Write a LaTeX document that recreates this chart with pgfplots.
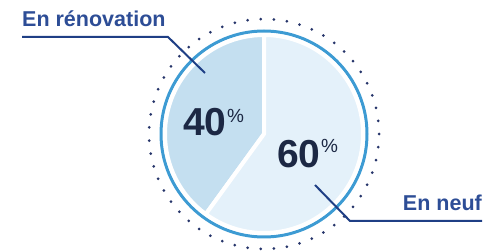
\documentclass[border=0pt]{standalone}
\usepackage{fontspec}
\setmainfont{Liberation Sans}
\usepackage{pgfplots}
\usepackage{pgfplotstable}
\pgfplotsset{compat=1.18}
\definecolor{sliceA}{HTML}{C4DFF0}
\definecolor{sliceB}{HTML}{E4F1FA}
\definecolor{ringc}{HTML}{3D9BD3}
\definecolor{dotc}{HTML}{26356A}
\definecolor{labelc}{HTML}{2D4D96}
\definecolor{linec}{HTML}{1F3F85}
\definecolor{numc}{HTML}{1C2844}
\pgfplotstableread{
label value
renovation 40
neuf 60
}\piedata
\pgfplotstablegetelem{0}{value}\of\piedata \let\va\pgfplotsretval
\pgfplotstablegetelem{1}{value}\of\piedata \let\vb\pgfplotsretval
\begin{document}
\begin{tikzpicture}
\begin{axis}[width=493bp, height=251bp, scale only axis,
  xmin=0, xmax=493, ymin=0, ymax=251, hide axis, clip=false]
\path (axis cs:0,0) rectangle (axis cs:493,251);
% dotted outer circle
\draw[dotc, line width=3bp, line cap=round, dash pattern=on 0pt off 13.138bp]
  (axis cs:264,117) circle[radius=115bp];
% ring
\draw[ringc, line width=3bp] (axis cs:264,117) circle[radius=103bp];
% slices
\fill[sliceA, draw=white, line width=4bp, line join=round]
  (axis cs:264,117) -- ++(90:99bp) arc[start angle=90, end angle={90+3.6*\va}, radius=99bp] -- cycle;
\fill[sliceB, draw=white, line width=4bp, line join=round]
  (axis cs:264,117) -- ++({90+3.6*\va}:99bp) arc[start angle={90+3.6*\va}, end angle={90+3.6*\va+3.6*\vb}, radius=99bp] -- cycle;
% connectors
\addplot[linec, line width=2bp, mark=none] coordinates {(22,214) (168,214) (205,178)};
\addplot[linec, line width=2bp, mark=none] coordinates {(315,66) (350,30) (482,30)};
% labels
\node[anchor=base west, inner sep=0pt, text=labelc, font=\bfseries\fontsize{21.5bp}{22bp}\selectfont]
  at (axis cs:22,224) {En rénovation};
\node[anchor=base east, inner sep=0pt, text=labelc, font=\bfseries\fontsize{21.5bp}{22bp}\selectfont]
  at (axis cs:482,40) {En neuf};
\node[anchor=base west, inner sep=0pt, text=numc, font=\bfseries\fontsize{39bp}{40bp}\selectfont]
  at (axis cs:183,115) {\va\kern0.5bp\raisebox{13bp}{\fontsize{19bp}{19bp}\selectfont\mdseries\%}};
\node[anchor=base west, inner sep=0pt, text=numc, font=\bfseries\fontsize{39bp}{40bp}\selectfont]
  at (axis cs:277,83) {\vb\kern0.5bp\raisebox{15bp}{\fontsize{19bp}{19bp}\selectfont\mdseries\%}};
\end{axis}
\end{tikzpicture}
\end{document}
